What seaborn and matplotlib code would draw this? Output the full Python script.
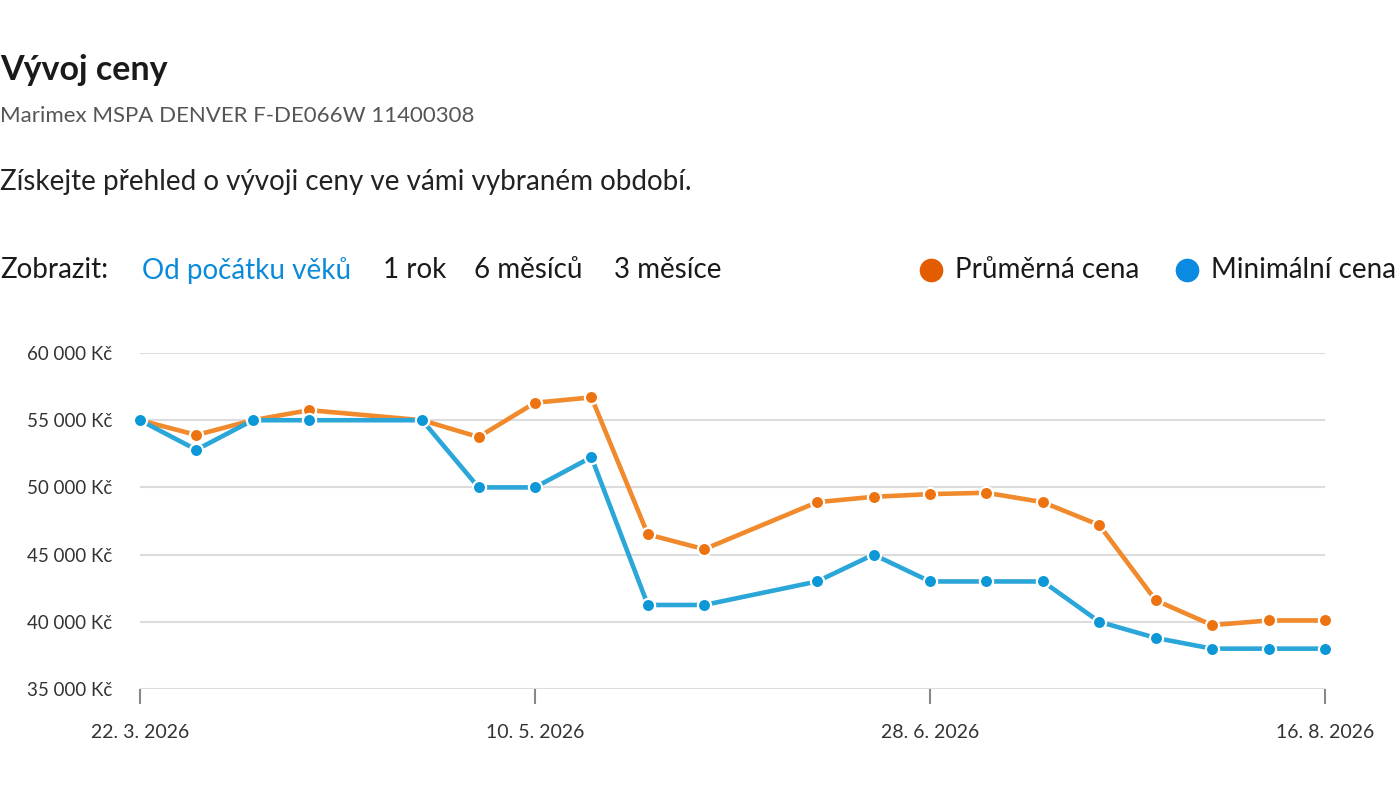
import pandas as pd
import matplotlib
matplotlib.use("Agg")
import matplotlib.pyplot as plt
import matplotlib.ticker as mticker
import seaborn as sns

dates = ["2026-03-22", "2026-03-29", "2026-04-05", "2026-04-12", "2026-04-26",
         "2026-05-03", "2026-05-10", "2026-05-17", "2026-05-24", "2026-05-31",
         "2026-06-14", "2026-06-21", "2026-06-28", "2026-07-05", "2026-07-12",
         "2026-07-19", "2026-07-26", "2026-08-02", "2026-08-09", "2026-08-16"]
avg_price = [55000, 53900, 55000, 55750, 55000, 53750, 56300, 56700, 46500, 45400,
             48900, 49300, 49500, 49600, 48900, 47200, 41600, 39750, 40100, 40100]
min_price = [55000, 52800, 55000, 55000, 55000, 50000, 50000, 52250, 41250, 41250,
             43000, 45000, 43000, 43000, 43000, 40000, 38800, 38000, 38000, 38000]
tick_dates = ["2026-03-22", "2026-05-10", "2026-06-28", "2026-08-16"]
y_ticks = [35000, 40000, 45000, 50000, 55000, 60000]

df = pd.DataFrame({"datum": pd.to_datetime(dates), "prumer": avg_price, "minimum": min_price})

sns.set_style("white")
plt.rcParams["font.family"] = ["Lato", "DejaVu Sans"]

fig = plt.figure(figsize=(14, 8.06), dpi=100)
ax = fig.add_axes([0.1, 0.1452, 0.8464, 0.4168])

orange_line, orange_dot = "#f08a2c", "#ec7310"
blue_line, blue_dot = "#2aa6d9", "#0c97d6"

sns.lineplot(data=df, x="datum", y="prumer", ax=ax, color=orange_line, linewidth=3.3,
             marker="o", markersize=9.5, markerfacecolor=orange_dot,
             markeredgecolor="white", markeredgewidth=1.6, clip_on=False, zorder=3)
sns.lineplot(data=df, x="datum", y="minimum", ax=ax, color=blue_line, linewidth=3.3,
             marker="o", markersize=9.5, markerfacecolor=blue_dot,
             markeredgecolor="white", markeredgewidth=1.6, clip_on=False, zorder=4)

ax.set_xlim(pd.Timestamp(tick_dates[0]), pd.Timestamp(tick_dates[-1]))
ax.set_ylim(35000, 60000)
ax.set_yticks(y_ticks)
ax.yaxis.set_major_formatter(mticker.FuncFormatter(
    lambda v, p: f"{int(v):,}".replace(",", " ") + " Kč"))
ax.set_xticks(pd.to_datetime(tick_dates))
ax.set_xticklabels([f"{d.day}. {d.month}. {d.year}" for d in pd.to_datetime(tick_dates)])

ax.grid(axis="y", color="#dcdcdc", linewidth=1.5)
ax.grid(axis="x", visible=False)
for s in ax.spines.values():
    s.set_visible(False)
ax.tick_params(axis="y", left=False, length=0, pad=20, labelsize=13.5, labelcolor="#333333")
ax.tick_params(axis="x", bottom=True, direction="out", length=11, width=1.5, color="#888888",
               pad=14, labelsize=14, labelcolor="#333333")
ax.set_xlabel("")
ax.set_ylabel("")

fig.text(0.0, 0.913, "Vývoj ceny", fontsize=24.5, fontweight="bold", color="#1a1a1a", va="center")
fig.text(0.0, 0.856, "Marimex MSPA DENVER F-DE066W 11400308", fontsize=16, color="#555555", va="center")
fig.text(0.0, 0.774, "Získejte přehled o vývoji ceny ve vámi vybraném období.", fontsize=20,
         color="#222222", va="center")

row_y = 0.665
fs = 20
fig.text(0.0, row_y, "Zobrazit:", fontsize=fs, color="#1a1a1a", va="center")
fig.text(142 / 1400, row_y, "Od počátku věků", fontsize=fs, color="#0a8ad8", va="center")
fig.text(383 / 1400, row_y, "1 rok", fontsize=fs, color="#1a1a1a", va="center")
fig.text(474 / 1400, row_y, "6 měsíců", fontsize=fs, color="#1a1a1a", va="center")
fig.text(614 / 1400, row_y, "3 měsíce", fontsize=fs, color="#1a1a1a", va="center")

fig.add_artist(plt.Line2D([931 / 1400], [row_y], marker="o", markersize=16,
                          color="#e35c00", linestyle="none", transform=fig.transFigure))
fig.text(955 / 1400, row_y, "Průměrná cena", fontsize=fs, color="#1a1a1a", va="center")
fig.add_artist(plt.Line2D([1187 / 1400], [row_y], marker="o", markersize=16,
                          color="#0a8ae0", linestyle="none", transform=fig.transFigure))
fig.text(1211 / 1400, row_y, "Minimální cena", fontsize=fs, color="#1a1a1a", va="center")

fig.savefig("out.png", dpi=100)
